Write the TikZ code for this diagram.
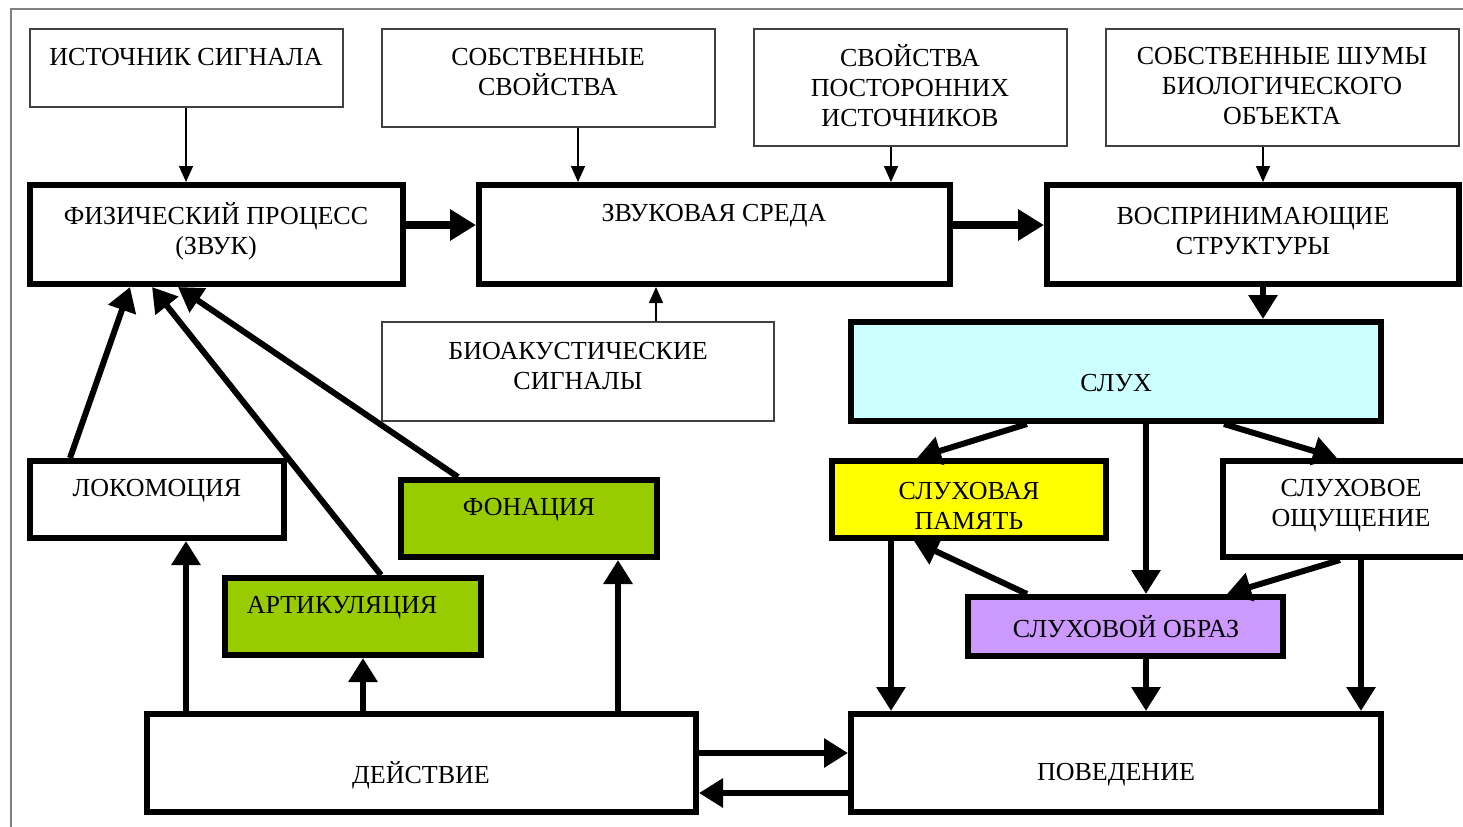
\documentclass[tikz,border=0pt]{standalone}
\usepackage{fontspec}
\setmainfont{Liberation Serif}
\usetikzlibrary{arrows.meta,fit,calc}
\definecolor{sluhfill}{HTML}{CCFFFF}
\definecolor{pamfill}{HTML}{FFFF00}
\definecolor{greenfill}{HTML}{99CC00}
\definecolor{obrfill}{HTML}{CC99FF}
\definecolor{framegray}{HTML}{808080}
\begin{document}
\begin{tikzpicture}[x=0.5pt,y=-0.5pt,
  thinbox/.style={draw=black!75, line width=0.8pt, inner sep=0pt},
  thickbox/.style={draw=black, line width=3pt, inner sep=0pt},
  txt/.style={font=\rmfamily\fontsize{13}{15}\selectfont, align=center, inner sep=0pt},
  thinarr/.style={-{Triangle[length=8pt,width=7pt]}, line width=0.8pt},
  thickarr/.style={-{Triangle[length=12pt,width=14pt]}, line width=3pt},
  bigarr/.style={-{Triangle[length=13pt,width=15pt]}, line width=4pt},
]
\useasboundingbox (0,0) rectangle (1463,826);
\clip (0,0) rectangle (1463,826);

% outer frame
\draw[framegray, line width=0.8pt] (11,840) -- (11,9) -- (1480,9);

% thin boxes
\node[thinbox, fit={(30,29) (343,107)}] (ist) {};
\node[thinbox, fit={(382,29) (715,127)}] (sob) {};
\node[thinbox, fit={(754,29) (1067,146)}] (pos) {};
\node[thinbox, fit={(1106,29) (1459,146)}] (shum) {};
\node[thinbox, fit={(382,322) (774,421)}] (bio) {};

% thick boxes
\node[thickbox, fit={(30,185) (403,284)}] (fiz) {};
\node[thickbox, fit={(479,185) (950,284)}] (zv) {};
\node[thickbox, fit={(1047,185) (1459,284)}] (vos) {};
\node[thickbox, fill=sluhfill, fit={(851,322) (1381,421)}] (sluh) {};
\node[thickbox, fit={(30,461) (284,538)}] (lok) {};
\node[thickbox, fill=greenfill, fit={(401,480) (657,557)}] (fon) {};
\node[thickbox, fill=greenfill, fit={(225,578) (481,655)}] (art) {};
\node[thickbox, fill=pamfill, fit={(832,461) (1106,538)}] (pam) {};
\node[thickbox, fit={(1223,461) (1490,557)}] (osh) {};
\node[thickbox, fill=obrfill, fit={(968,597) (1283,656)}] (obr) {};
\node[thickbox, fit={(147,714) (696,812)}] (dei) {};
\node[thickbox, fit={(851,714) (1381,812)}] (pov) {};

% texts
\node[txt] (istT) at (186,57) {ИСТОЧНИК СИГНАЛА};
\node[txt] (sobT) at (548,72) {СОБСТВЕННЫЕ\\СВОЙСТВА};
\node[txt] (posT) at (910,86) {СВОЙСТВА\\ПОСТОРОННИХ\\ИСТОЧНИКОВ};
\node[txt] (shumT) at (1282,86) {СОБСТВЕННЫЕ ШУМЫ\\БИОЛОГИЧЕСКОГО\\ОБЪЕКТА};
\node[txt] (bioT) at (578,366) {БИОАКУСТИЧЕСКИЕ\\СИГНАЛЫ};
\node[txt] (fizT) at (216,231) {ФИЗИЧЕСКИЙ ПРОЦЕСС\\(ЗВУК)};
\node[txt] (zvT) at (714,216) {ЗВУКОВАЯ СРЕДА};
\node[txt] (vosT) at (1253,231) {ВОСПРИНИМАЮЩИЕ\\СТРУКТУРЫ};
\node[txt] (sluhT) at (1116,383) {СЛУХ};
\node[txt] (lokT) at (157,491) {ЛОКОМОЦИЯ};
\node[txt] (fonT) at (529,510) {ФОНАЦИЯ};
\node[txt] (artT) at (342,608) {АРТИКУЛЯЦИЯ};
\node[txt] (pamT) at (969,506) {СЛУХОВАЯ\\ПАМЯТЬ};
\node[txt] (oshT) at (1351,506) {СЛУХОВОЕ\\ОЩУЩЕНИЕ};
\node[txt] (obrT) at (1126,627) {СЛУХОВОЙ ОБРАЗ};
\node[txt] (deiT) at (421,775) {ДЕЙСТВИЕ};
\node[txt] (povT) at (1116,775) {ПОВЕДЕНИЕ};

% thin arrows
\draw[thinarr] (ist.south -| 186,0) -- (fiz.north -| 186,0);
\draw[thinarr] (sob.south -| 578,0) -- (zv.north -| 578,0);
\draw[thinarr] (pos.south -| 891,0) -- (zv.north -| 891,0);
\draw[thinarr] (shum.south -| 1263,0) -- (vos.north -| 1263,0);
\draw[thinarr] (bio.north -| 656,0) -- (zv.south -| 656,0);

% thick arrows, top row
\draw[bigarr] (fiz.east |- 0,225) -- (zv.west |- 0,225);
\draw[bigarr] (zv.east |- 0,225) -- (vos.west |- 0,225);
\draw[thickarr] (vos.south -| 1263,0) -- (sluh.north -| 1263,0);

% into physical process
\draw[thickarr] (lok.north -| 70,0) -- (fiz.south -| 130,0);
\draw[thickarr] (art.north -| 381,0) -- (fiz.south -| 152,0);
\draw[thickarr] (fon.north -| 458,0) -- (fiz.south -| 178,0);

% from action
\draw[thickarr] (dei.north -| 186,0) -- (lok.south -| 186,0);
\draw[thickarr] (dei.north -| 363,0) -- (art.south -| 363,0);
\draw[thickarr] (dei.north -| 618,0) -- (fon.south -| 618,0);
\draw[thickarr] (dei.east |- 0,753) -- (pov.west |- 0,753);
\draw[thickarr] (pov.west |- 0,793) -- (dei.east |- 0,793);

% hearing
\draw[thickarr] (sluh.south -| 1027,0) -- (pam.north -| 917,0);
\draw[thickarr] (sluh.south -| 1146,0) -- (obr.north -| 1146,0);
\draw[thickarr] (sluh.south -| 1224,0) -- (osh.north -| 1337,0);
\draw[thickarr] (pam.south -| 891,0) -- (pov.north -| 891,0);
\draw[thickarr] (obr.north -| 1027,0) -- (pam.south -| 914,0);
\draw[thickarr] (osh.south -| 1340,0) -- (obr.north -| 1227,0);
\draw[thickarr] (obr.south -| 1146,0) -- (pov.north -| 1146,0);
\draw[thickarr] (osh.south -| 1361,0) -- (pov.north -| 1361,0);
\end{tikzpicture}
\end{document}
